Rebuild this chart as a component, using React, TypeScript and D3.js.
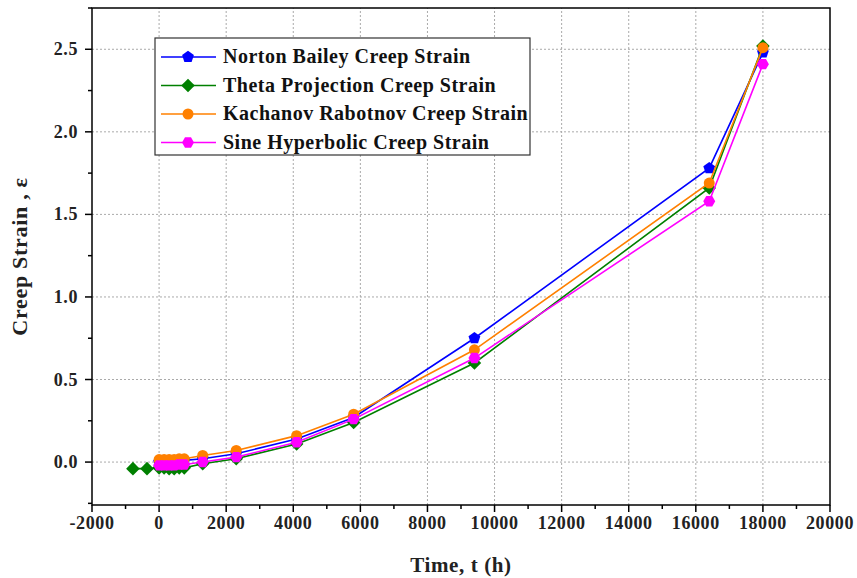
import React from 'react';
import * as d3 from 'd3';

// time (h) for each series
const nortonTime = [0, 150, 300, 450, 600, 750, 1300, 2300, 4100, 5800, 9400, 16400, 18000];
const nortonStrain = [0.0, 0.0, 0.0, 0.0, 0.005, 0.01, 0.02, 0.05, 0.14, 0.27, 0.75, 1.78, 2.48];

const thetaTime = [-780, -360, 0, 150, 300, 450, 600, 750, 1300, 2300, 4100, 5800, 9400, 16400, 18000];
const thetaStrain = [-0.04, -0.04, -0.035, -0.035, -0.04, -0.04, -0.035, -0.035, -0.01, 0.02, 0.11, 0.24, 0.6, 1.66, 2.52];

const kachanovTime = [0, 150, 300, 450, 600, 750, 1300, 2300, 4100, 5800, 9400, 16400, 18000];
const kachanovStrain = [0.015, 0.015, 0.015, 0.015, 0.02, 0.02, 0.04, 0.07, 0.16, 0.29, 0.68, 1.69, 2.51];

const sineTime = [0, 150, 300, 450, 600, 750, 1300, 2300, 4100, 5800, 9400, 16400, 18000];
const sineStrain = [-0.02, -0.02, -0.02, -0.02, -0.015, -0.015, 0.0, 0.03, 0.12, 0.26, 0.63, 1.58, 2.41];

const seriesNames = [
  'Norton Bailey Creep Strain',
  'Theta Projection Creep Strain',
  'Kachanov Rabotnov Creep Strain',
  'Sine Hyperbolic Creep Strain',
];
const seriesColors = ['#0000ff', '#008000', '#ff8000', '#ff00ff'];
const seriesShapes = ['pentagon', 'diamond', 'circle', 'hexagon'];

const xTicks = [-2000, 0, 2000, 4000, 6000, 8000, 10000, 12000, 14000, 16000, 18000, 20000];
const yTicks = [0.0, 0.5, 1.0, 1.5, 2.0, 2.5];

const font = '"Liberation Serif", "Times New Roman", serif';

const polygon = (n: number, r: number, rot: number) =>
  d3.range(n).map((i) => {
    const a = rot + (i * 2 * Math.PI) / n;
    return [r * Math.cos(a), r * Math.sin(a)] as [number, number];
  });

const Marker: React.FC<{ shape: string; color: string; x: number; y: number }> = ({ shape, color, x, y }) => {
  const t = `translate(${x},${y})`;
  if (shape === 'circle') return <circle cx={x} cy={y} r={5.5} fill={color} />;
  const pts =
    shape === 'pentagon'
      ? polygon(5, 6.2, -Math.PI / 2)
      : shape === 'diamond'
      ? polygon(4, 6.8, -Math.PI / 2)
      : polygon(6, 6, 0);
  return <path transform={t} d={'M' + pts.map((p) => p.join(',')).join('L') + 'Z'} fill={color} />;
};

export default function App() {
  const W = 857;
  const H = 578;
  const margin = { left: 92, top: 8, right: 27, bottom: 73 };
  const x = d3.scaleLinear().domain([-2000, 20000]).range([margin.left, W - margin.right]);
  const y = d3.scaleLinear().domain([-0.26, 2.75]).range([H - margin.bottom, margin.top]);

  const series = [
    { time: nortonTime, strain: nortonStrain },
    { time: thetaTime, strain: thetaStrain },
    { time: kachanovTime, strain: kachanovStrain },
    { time: sineTime, strain: sineStrain },
  ];

  const line = d3
    .line<[number, number]>()
    .x((d) => x(d[0]))
    .y((d) => y(d[1]));

  const x0 = x.range()[0];
  const x1 = x.range()[1];
  const y0 = y.range()[0];
  const y1 = y.range()[1];
  const xMinor = d3.range(-2000, 20001, 1000).filter((v) => v % 2000 !== 0);
  const yMinor = [-0.25, 0.25, 0.75, 1.25, 1.75, 2.25, 2.75].filter((v) => y(v) >= y1 && y(v) <= y0);

  const legendX = 155;
  const legendY = 38;
  const legendRow = 28.5;

  return (
    <svg width={W} height={H} style={{ position: 'absolute', left: 0, top: 0, background: '#fff' }}>
      <rect x={0} y={0} width={W} height={H} fill="#fff" />
      {/* grid */}
      {xTicks.slice(1, -1).map((v) => (
        <line key={'gx' + v} x1={x(v)} x2={x(v)} y1={y0} y2={y1} stroke="#aaa" strokeWidth={1} strokeDasharray="2,2" />
      ))}
      {yTicks.map((v) => (
        <line key={'gy' + v} x1={x0} x2={x1} y1={y(v)} y2={y(v)} stroke="#aaa" strokeWidth={1} strokeDasharray="2,2" />
      ))}

      {/* series */}
      {series.map((s, i) => {
        const pts = s.time.map((t, j) => [t, s.strain[j]] as [number, number]);
        return (
          <g key={'s' + i}>
            <path d={line(pts)!} fill="none" stroke={seriesColors[i]} strokeWidth={1.6} />
            {pts.map((p, j) => (
              <Marker key={j} shape={seriesShapes[i]} color={seriesColors[i]} x={x(p[0])} y={y(p[1])} />
            ))}
          </g>
        );
      })}

      {/* frame */}
      <rect x={x0} y={y1} width={x1 - x0} height={y0 - y1} fill="none" stroke="#000" strokeWidth={1.5} />

      {/* x axis ticks */}
      {xTicks.map((v) => (
        <g key={'xt' + v}>
          <line x1={x(v)} x2={x(v)} y1={y0} y2={y0 + 7} stroke="#000" strokeWidth={1.5} />
          <text x={x(v)} y={y0 + 24} textAnchor="middle" fontFamily={font} fontWeight="bold" fontSize={18} letterSpacing={0.6} fill="#222">
            {v}
          </text>
        </g>
      ))}
      {xMinor.map((v) => (
        <line key={'xm' + v} x1={x(v)} x2={x(v)} y1={y0} y2={y0 + 4} stroke="#000" strokeWidth={1.5} />
      ))}

      {/* y axis ticks */}
      {yTicks.map((v) => (
        <g key={'yt' + v}>
          <line x1={x0 - 7} x2={x0} y1={y(v)} y2={y(v)} stroke="#000" strokeWidth={1.5} />
          <text x={x0 - 14} y={y(v) + 6} textAnchor="end" fontFamily={font} fontWeight="bold" fontSize={18} letterSpacing={0.6} fill="#222">
            {v.toFixed(1)}
          </text>
        </g>
      ))}
      {yMinor.map((v) => (
        <line key={'ym' + v} x1={x0 - 4} x2={x0} y1={y(v)} y2={y(v)} stroke="#000" strokeWidth={1.5} />
      ))}

      {/* axis titles */}
      <text x={(x0 + x1) / 2} y={572} textAnchor="middle" fontFamily={font} fontWeight="bold" fontSize={21} letterSpacing={0.6} fill="#222">
        Time, t (h)
      </text>
      <text
        transform={`translate(27,${(y0 + y1) / 2}) rotate(-90)`}
        textAnchor="middle"
        fontFamily={font}
        fontWeight="bold"
        fontSize={22}
        letterSpacing={0.7}
        fill="#222"
      >
        Creep Strain , ε
      </text>

      {/* legend */}
      <rect x={legendX} y={legendY} width={375} height={117} fill="#fff" stroke="#333" strokeWidth={1.2} />
      {seriesNames.map((name, i) => {
        const cy = legendY + 19 + i * legendRow;
        return (
          <g key={'lg' + i}>
            <line x1={legendX + 6} x2={legendX + 61} y1={cy} y2={cy} stroke={seriesColors[i]} strokeWidth={1.6} />
            <Marker shape={seriesShapes[i]} color={seriesColors[i]} x={legendX + 33} y={cy} />
            <text x={legendX + 68} y={cy + 6} fontFamily={font} fontWeight="bold" fontSize={20} letterSpacing={0.5} fill="#111">
              {name}
            </text>
          </g>
        );
      })}
    </svg>
  );
}
